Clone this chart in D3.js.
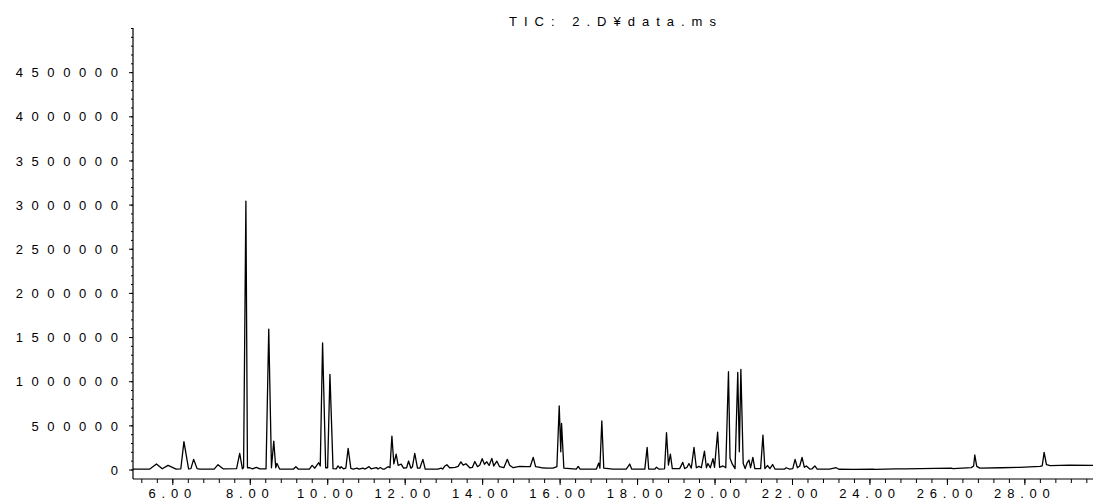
<!DOCTYPE html>
<html>
<head>
<meta charset="utf-8">
<script src="https://cdn.jsdelivr.net/npm/d3@7"></script>
<style>
  html, body { margin: 0; padding: 0; background: #fff; }
  svg { display: block; }
  text { font-family: "Liberation Sans", Arial, sans-serif; fill: #000; }
</style>
</head>
<body>
<svg id="chart" width="1093" height="502"></svg>
<script>
// ---- data (retention time in minutes, abundance) ----
const title = "TIC: 2.D\u00A5data.ms";
const times = [
  4.985, 5.42, 5.59, 5.74, 5.89, 6.10, 6.22, 6.30, 6.42, 6.48, 6.55, 6.64, 6.71,
  7.08, 7.18, 7.31, 7.66, 7.74, 7.81, 7.84, 7.90, 7.94, 8.00, 8.07, 8.17, 8.26,
  8.42, 8.49, 8.56, 8.62, 8.67, 8.70, 8.77, 9.13, 9.19, 9.25, 9.54, 9.61, 9.68,
  9.78, 9.82, 9.88, 9.96, 10.01, 10.07, 10.15, 10.23, 10.28, 10.33, 10.36, 10.42,
  10.48, 10.54, 10.61, 10.67, 10.77, 10.82, 10.92, 10.98, 11.08, 11.13,
  11.27, 11.31, 11.37, 11.43, 11.48, 11.57, 11.62, 11.67, 11.72, 11.78, 11.83,
  11.91, 11.97, 12.05, 12.10, 12.16, 12.20, 12.26, 12.33, 12.39, 12.47, 12.53,
  12.86, 12.94, 12.98, 13.03, 13.09, 13.16, 13.30, 13.38, 13.45, 13.51, 13.58,
  13.68, 13.75, 13.81, 13.88, 13.94, 14.00, 14.06, 14.12, 14.18, 14.25, 14.30,
  14.38, 14.45, 14.56, 14.65, 14.71, 14.80, 14.97, 15.14, 15.24, 15.32, 15.38,
  15.53, 15.66, 15.83, 15.93, 15.99, 16.03, 16.05, 16.11, 16.43, 16.48, 16.53,
  16.95, 17.01, 17.04, 17.09, 17.14, 17.38,
  17.72, 17.81, 17.86, 18.20, 18.26, 18.30, 18.46, 18.50, 18.56, 18.71, 18.76,
  18.81, 18.86, 18.91, 19.10, 19.18, 19.23, 19.29, 19.34, 19.40, 19.47, 19.53,
  19.60, 19.66, 19.74, 19.79, 19.83, 19.89, 19.96, 20.00, 20.08, 20.13, 20.22,
  20.29, 20.36, 20.40, 20.46, 20.53, 20.60, 20.64, 20.68, 20.74, 20.79, 20.84,
  20.89, 20.93, 20.99, 21.04, 21.19, 21.25, 21.30, 21.37, 21.43, 21.50, 21.56,
  21.81, 21.85, 21.94, 22.02, 22.08, 22.14, 22.20, 22.26, 22.32, 22.37, 22.46,
  22.52, 22.59, 22.65, 22.97, 23.14, 23.21, 23.58,
  24.09, 24.15, 24.69, 24.91, 26.11, 26.16, 26.63, 26.69, 26.72, 26.77, 26.85,
  27.40, 27.88, 28.40, 28.46, 28.51, 28.57, 28.67, 29.17, 29.772
];
const intensities = [
  5000, 5000, 62000, 8000, 47000, 5000, 8000, 315000, 8000, 10000, 115000, 10000, 5000,
  5000, 55000, 8000, 10000, 183000, 8000, 20000, 3040000, 20000, 20000, 8000, 25000, 8000,
  8000, 1590000, 20000, 322000, 20000, 70000, 5000, 5000, 32000, 5000, 5000, 47000, 15000,
  77000, 40000, 1435000, 20000, 20000, 1078000, 10000, 8000, 40000, 12000, 32000, 8000,
  15000, 240000, 12000, 5000, 15000, 5000, 15000, 5000, 32000, 8000,
  22000, 5000, 22000, 5000, 5000, 32000, 20000, 379000, 63000, 175000, 48000,
  60000, 15000, 20000, 96000, 15000, 32000, 183000, 15000, 15000, 115000, 5000,
  5000, 15000, 5000, 36000, 54000, 20000, 25000, 36000, 87000, 50000, 65000,
  20000, 25000, 90000, 32000, 50000, 122000, 60000, 87000, 45000, 126000, 40000,
  94000, 32000, 20000, 115000, 48000, 20000, 36000, 32000, 32000, 138000, 32000,
  20000, 15000, 15000, 32000, 719000, 200000, 523000, 15000, 5000, 36000, 5000,
  5000, 73000, 15000, 549000, 15000, 5000,
  5000, 62000, 5000, 5000, 251000, 5000, 5000, 25000, 5000, 8000, 417000,
  50000, 175000, 10000, 10000, 81000, 10000, 25000, 68000, 15000, 251000, 20000,
  35000, 20000, 209000, 20000, 68000, 20000, 122000, 25000, 424000, 25000, 40000,
  20000, 1107000, 127000, 60000, 10000, 1100000, 200000, 1134000, 70000, 10000, 74000,
  107000, 20000, 138000, 10000, 10000, 390000, 10000, 45000, 10000, 56000, 5000,
  5000, 20000, 5000, 10000, 115000, 20000, 40000, 138000, 25000, 40000, 5000,
  8000, 40000, 5000, 5000, 20000, 3000, 2000,
  5000, 2000, 8000, 8000, 15000, 9000, 21000, 40000, 164000, 35000, 15000,
  20000, 25000, 35000, 40000, 195000, 55000, 45000, 50000, 47000
];
const yTickValues = [0, 500000, 1000000, 1500000, 2000000, 2500000, 3000000, 3500000, 4000000, 4500000];
const yTickLabels = ["0", "500000", "1000000", "1500000", "2000000", "2500000", "3000000", "3500000", "4000000", "4500000"];
const xTickValues = [6, 8, 10, 12, 14, 16, 18, 20, 22, 24, 26, 28];
const xTickLabels = ["6.00", "8.00", "10.00", "12.00", "14.00", "16.00", "18.00", "20.00", "22.00", "24.00", "26.00", "28.00"];

// ---- layout ----
const svg = d3.select("#chart");
const left = 133, right = 1093, yTop = 28, yZero = 469.5, xAxisY = 479;

const x = d3.scaleLinear().domain([4.985, 29.772]).range([left, right]);
const y = d3.scaleLinear().domain([0, 5000000]).range([yZero, yTop]);

// title
svg.append("text")
  .attr("x", (left + right) / 2 + 3)
  .attr("y", 26)
  .attr("text-anchor", "middle")
  .attr("font-size", 13)
  .attr("letter-spacing", 7)
  .text(title);

// y axis: minor ticks
const yMinor = d3.axisLeft(y).tickValues(d3.range(0, 5000001, 100000)).tickSize(2).tickFormat("");
svg.append("g").attr("transform", `translate(${left},0)`).call(yMinor)
  .call(g => g.select(".domain").remove());
// y axis: major ticks + labels
const yMajor = d3.axisLeft(y).tickValues(yTickValues).tickSize(4)
  .tickFormat((d, i) => yTickLabels[i]).tickPadding(6);
const gy = svg.append("g").attr("transform", `translate(${left},0)`).call(yMajor);
gy.select(".domain").remove();
gy.selectAll(".tick text")
  .attr("font-family", "Liberation Sans, Arial, sans-serif")
  .attr("font-size", 13)
  .attr("letter-spacing", 8.6)
  .attr("x", -6.5)
  .attr("dy", "0.36em");

// axis lines (L shape)
svg.append("line").attr("x1", left).attr("x2", left).attr("y1", yTop).attr("y2", xAxisY)
  .attr("stroke", "#000").attr("stroke-width", 1.2);
svg.append("line").attr("x1", left).attr("x2", right).attr("y1", xAxisY).attr("y2", xAxisY)
  .attr("stroke", "#000").attr("stroke-width", 1.2);

// x axis: minor ticks every 0.4 min
const xMinor = d3.axisBottom(x).tickValues(d3.range(5.2, 29.7, 0.4)).tickSize(4).tickFormat("");
svg.append("g").attr("transform", `translate(0,${xAxisY})`).call(xMinor)
  .call(g => g.select(".domain").remove());
const xMajor = d3.axisBottom(x).tickValues(xTickValues).tickSize(6)
  .tickFormat((d, i) => xTickLabels[i]).tickPadding(5);
const gx = svg.append("g").attr("transform", `translate(0,${xAxisY})`).call(xMajor);
gx.select(".domain").remove();
gx.selectAll(".tick text")
  .attr("font-family", "Liberation Sans, Arial, sans-serif")
  .attr("font-size", 13)
  .attr("letter-spacing", 5.8)
  .attr("y", 19)
  .attr("dy", 0);

svg.selectAll(".tick line").attr("stroke", "#000");

// chromatogram trace
const points = times.map((t, i) => [t, intensities[i]]);
svg.append("path")
  .datum(points)
  .attr("fill", "none")
  .attr("stroke", "#000")
  .attr("stroke-width", 1.3)
  .attr("stroke-linejoin", "round")
  .attr("d", d3.line().x(d => x(d[0])).y(d => y(d[1])));
</script>
</body>
</html>
